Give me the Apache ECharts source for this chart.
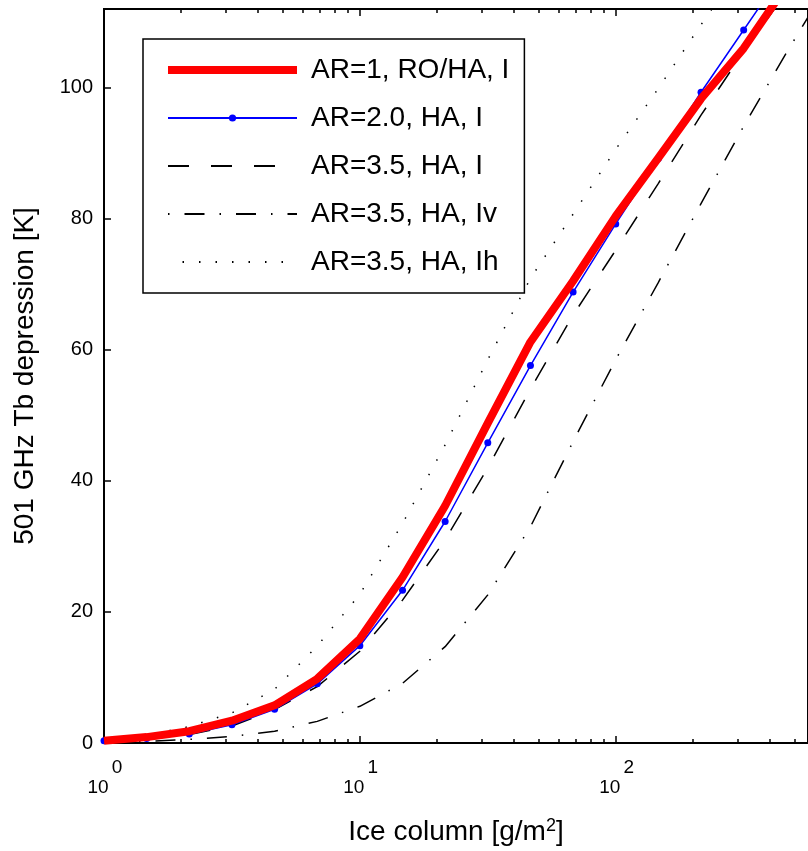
<!DOCTYPE html>
<html>
<head>
<meta charset="utf-8">
<script src="https://cdn.jsdelivr.net/npm/echarts@6/dist/echarts.min.js"></script>
<style>
html,body{margin:0;padding:0;background:#fff;}
#chart{width:808px;height:851px;}
</style>
</head>
<body>
<div id="chart"></div>
<script>
// Ice column [g/m2], sampled at 10^(k/6)
var iceColumn = [1, 1.468, 2.154, 3.162, 4.642, 6.813, 10, 14.68, 21.54, 31.62, 46.42, 68.13, 100, 146.8, 215.4, 316.2, 464.2, 681.3];
// 501 GHz Tb depression [K]
var ar1_ROHA_I = [0.35, 0.9, 1.8, 3.4, 5.75, 9.8, 15.9, 25.3, 36.2, 48.8, 61.2, 70.5, 80.4, 89.3, 98.3, 106.0, 115.5];
var ar20_HA_I  = [0.35, 0.7, 1.36, 2.77, 5.15, 9.03, 14.85, 23.3, 33.8, 45.8, 57.6, 68.8, 79.2, 89.2, 99.3, 108.8, 118.3];
var ar35_HA_I  = [0.2, 0.6, 1.3, 2.6, 5.1, 8.6, 14.0, 21.8, 31.0, 42.0, 54.0, 65.3, 75.2, 85.4, 95.8, 105.5, 114.5];
var ar35_HA_Iv = [0.1, 0.25, 0.55, 1.0, 1.8, 3.3, 5.6, 9.1, 14.7, 22.6, 33.0, 46.0, 58.5, 70.3, 82.3, 94.1, 105.3, 116.0];
var ar35_HA_Ih = [0.3, 1.2, 2.5, 4.6, 8.2, 14.8, 22.7, 33.5, 45.5, 58.5, 70.9, 80.7, 90.6, 99.9, 109.6, 119.0];
var seriesNames = ['AR=1, RO/HA, I', 'AR=2.0, HA, I', 'AR=3.5, HA, I', 'AR=3.5, HA, Iv', 'AR=3.5, HA, Ih'];
var majorTicks = [1, 10, 100];
var minorTicks = [2,3,4,5,6,7,8,9,20,30,40,50,60,70,80,90,200,300,400,500];
var yTicks = [0, 20, 40, 60, 80, 100];

function pairs(ys){ return ys.map(function(y,i){ return [iceColumn[i], y]; }); }

var FONT = 'Liberation Sans';
var chart = echarts.init(document.getElementById('chart'), null, {renderer:'canvas'});

var xMax = Math.pow(10, 2.7514);
function xAxisDef(pos, ticks, len, showLabel, showLine){
  return {
    type:'log', logBase:10, min:1, max:xMax, position:pos,
    axisLine:{show:showLine, onZero:false, lineStyle:{color:'#000', width:2}},
    axisTick:{show:true, inside:true, length:len, customValues:ticks, lineStyle:{color:'#000', width:1.5}},
    axisLabel:{show:showLabel},
    splitLine:{show:false}, minorTick:{show:false}, minorSplitLine:{show:false}
  };
}

var xMain = xAxisDef('bottom', majorTicks, 7, true, true);
xMain.axisLabel = {
  show:true, margin:15, customValues: majorTicks,
  formatter:function(v){ var e = Math.round(Math.log10(v)); return '{e|' + e + '}\n{b|10}'; },
  rich:{
    e:{fontFamily:FONT, fontSize:19, color:'#000', lineHeight:20, padding:[0,0,0,26]},
    b:{fontFamily:FONT, fontSize:19, color:'#000', lineHeight:20, padding:[0,12,0,0]}
  }
};
xMain.name = 'Ice column [g/m{sup|2}]';
xMain.nameLocation = 'middle';
xMain.nameGap = 74;
xMain.nameTextStyle = {fontFamily:FONT, fontSize:28, color:'#000',
  rich:{sup:{fontFamily:FONT, fontSize:18, color:'#000', verticalAlign:'top', padding:[0,0,12,0]}}};

var noMark = {opacity:0};
var option = {
  backgroundColor:'#fff',
  animation:false,
  grid:{left:104, top:9, right:-2, bottom:104, show:true, borderColor:'#000', borderWidth:2, backgroundColor:'transparent'},
  legend:{
    orient:'vertical', left:143, top:39,
    data:[
      {name:seriesNames[0], itemStyle:noMark, lineStyle:{width:8, cap:'butt'}},
      {name:seriesNames[1]},
      {name:seriesNames[2], itemStyle:noMark},
      {name:seriesNames[3], itemStyle:noMark, lineStyle:{dashOffset:35}},
      {name:seriesNames[4], itemStyle:noMark}
    ],
    itemWidth:129, itemHeight:9, itemGap:20,
    padding:[17,15,17,21],
    backgroundColor:'#fff', borderColor:'#000', borderWidth:1.5, borderRadius:0,
    textStyle:{fontFamily:FONT, fontSize:28, color:'#000', lineHeight:28, padding:[0,0,0,9]},
    selectedMode:false
  },
  xAxis:[
    xMain,
    xAxisDef('bottom', minorTicks, 4, false, false),
    xAxisDef('top', majorTicks, 7, false, false),
    xAxisDef('top', minorTicks, 4, false, false)
  ],
  yAxis:[{
    type:'value', min:0, max:112, interval:20, position:'left',
    axisLine:{show:true, onZero:false, lineStyle:{color:'#000', width:2}},
    axisTick:{show:true, inside:true, length:7, customValues:yTicks, lineStyle:{color:'#000', width:1.5}},
    axisLabel:{margin:11, fontFamily:FONT, fontSize:20, color:'#000', customValues:yTicks},
    splitLine:{show:false},
    name:'501 GHz Tb depression [K]', nameLocation:'middle', nameGap:65,
    nameTextStyle:{fontFamily:FONT, fontSize:28, color:'#000'}
  }],
  series:[
    {name:seriesNames[0], type:'line', data:pairs(ar1_ROHA_I), showSymbol:false, symbol:'none', z:6,
     lineStyle:{color:'#ff0000', width:8, join:'round', cap:'butt'}, itemStyle:{color:'#ff0000'}},
    {name:seriesNames[1], type:'line', data:pairs(ar20_HA_I), symbol:'circle', symbolSize:7, z:5,
     lineStyle:{color:'#0000ff', width:1.5}, itemStyle:{color:'#0000ff'}},
    {name:seriesNames[2], type:'line', data:pairs(ar35_HA_I), symbol:'none', z:4,
     lineStyle:{color:'#000', width:1.5, type:[21,22]}, itemStyle:{color:'#000'}},
    {name:seriesNames[3], type:'line', data:pairs(ar35_HA_Iv), symbol:'none', z:4,
     lineStyle:{color:'#000', width:1.5, type:[20,15,1.5,15]}, itemStyle:{color:'#000'}},
    {name:seriesNames[4], type:'line', data:pairs(ar35_HA_Ih), symbol:'none', z:4,
     lineStyle:{color:'#000', width:1.5, type:[1.5,15]}, itemStyle:{color:'#000'}}
  ]
};
chart.setOption(option);
</script>
</body>
</html>
